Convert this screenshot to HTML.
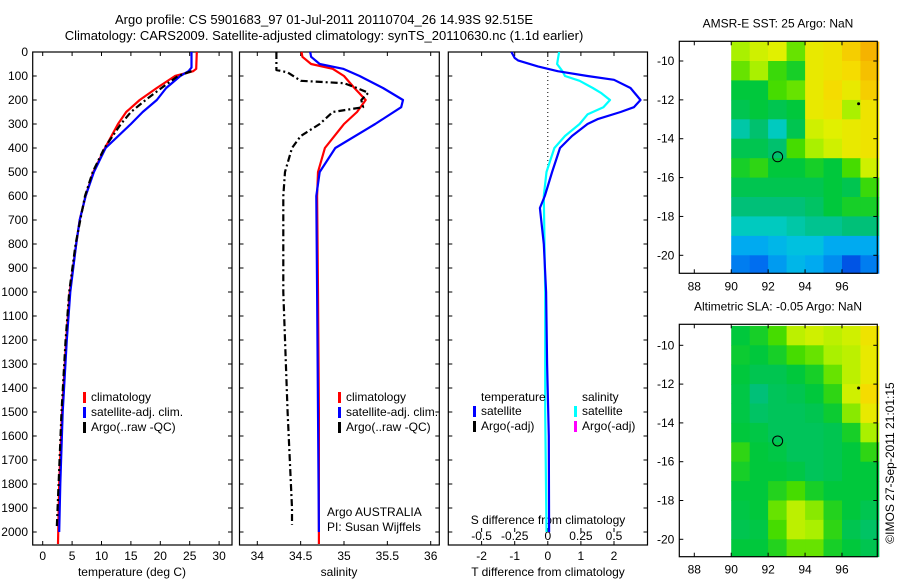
<!DOCTYPE html>
<html><head><meta charset="utf-8">
<style>
html,body{margin:0;padding:0;background:#fff;}
svg{display:block;font-family:"Liberation Sans",sans-serif;}
text{font-size:12px;fill:#000;}
</style></head>
<body>
<svg id="chart" width="900" height="580" viewBox="0 0 900 580" xmlns="http://www.w3.org/2000/svg">
<text x="324" y="24" text-anchor="middle" style="font-size:13px">Argo profile: CS 5901683_97 01-Jul-2011 20110704_26 14.93S 92.515E</text>
<text x="324" y="40" text-anchor="middle" style="font-size:13px">Climatology: CARS2009. Satellite-adjusted climatology: synTS_20110630.nc (1.1d earlier)</text>
<g id="g"></g>
</svg>
<script>
// ---------- data ----------
const depthTicks = [0,100,200,300,400,500,600,700,800,900,1000,1100,1200,1300,1400,1500,1600,1700,1800,1900,2000];
const tempTicks = [0,5,10,15,20,25,30];
const salTicks = [34,34.5,35,35.5,36];
const salTickLabels = ["34","34.5","35","35.5","36"];
const tdiffTicks = [-2,-1,0,1,2];
const sdiffTicks = [-0.5,-0.25,0,0.25,0.5];
const sdiffTickLabels = ["-0.5","-0.25","0","0.25","0.5"];

const tempClimDepth = [0,70,80,100,150,200,250,300,400,500,600,700,800,1000,1200,1500,1800,2050];
const tempClim =      [26.2,26.1,25.6,22.5,19.4,16.5,14.2,12.8,10.6,8.6,7.3,6.3,5.7,4.6,4.0,3.3,2.8,2.6];
const tempSatDepth = [0,65,80,100,150,200,250,300,400,500,600,700,800,1000,1200,1500,1800,2000];
const tempSat =      [25.3,25.3,24.8,23.4,21.0,19.4,17.0,15.0,10.7,8.7,7.3,6.3,5.7,4.7,4.1,3.4,3.0,2.8];
const tempArgoDepth = [80,100,150,200,250,300,400,500,600,800,1000,1200,1500,1800,1980];
const tempArgo =      [25.3,23.0,20.2,17.5,15.0,13.3,10.5,8.5,7.2,5.6,4.5,3.9,3.2,2.7,2.4];

const salClimDepth = [0,20,50,70,100,150,200,250,300,400,500,600,1000,1500,2050];
const salClim =      [34.51,34.52,34.62,34.87,35.0,35.12,35.25,35.15,35.0,34.78,34.7,34.69,34.7,34.71,34.71];
const salSatDepth = [0,20,50,70,100,150,200,230,300,400,500,600,1000,1500,2000];
const salSat =      [34.61,34.62,34.72,34.99,35.18,35.45,35.68,35.66,35.36,34.9,34.72,34.68,34.69,34.7,34.71];
const salArgoDepth = [0,75,85,120,130,150,170,200,230,250,300,350,400,500,600,1000,1500,1900,1970];
const salArgo =      [34.22,34.22,34.35,34.5,35.0,35.15,35.28,35.2,35.22,34.87,34.72,34.5,34.4,34.32,34.3,34.3,34.35,34.4,34.4];

const tdiffDepth = [0,25,35,60,80,100,116,150,200,230,250,280,300,350,400,500,600,650,700,800,1000,1300,1600,2000];
const tdiffSat =   [-1.1,-1.0,-0.9,-0.3,0.3,1.2,2.0,2.5,2.8,2.6,2.2,1.5,1.2,0.73,0.37,0.13,-0.09,-0.24,-0.2,-0.12,-0.05,-0.02,0.03,0.04];
const sdiffDepth = [0,50,80,100,120,150,170,200,230,260,300,350,400,450,500,600,1000,1500,2000];
const sdiffSat =   [0.085,0.07,0.11,0.13,0.24,0.34,0.40,0.47,0.42,0.30,0.24,0.13,0.05,0.02,-0.01,-0.03,-0.02,-0.02,-0.01];

const lonTicks = [88,90,92,94,96];
const latTicks = [-10,-12,-14,-16,-18,-20];
const sstGrid = [
 [0.62,0.66,0.68,0.58,0.70,0.72,0.76,0.80],
 [0.58,0.62,0.55,0.52,0.70,0.72,0.74,0.78],
 [0.50,0.50,0.56,0.58,0.70,0.74,0.70,0.76],
 [0.48,0.50,0.48,0.50,0.70,0.72,0.62,0.72],
 [0.40,0.45,0.38,0.48,0.66,0.68,0.70,0.72],
 [0.48,0.48,0.45,0.56,0.62,0.66,0.70,0.72],
 [0.52,0.54,0.50,0.50,0.52,0.50,0.56,0.66],
 [0.48,0.48,0.48,0.48,0.48,0.50,0.48,0.55],
 [0.44,0.44,0.44,0.44,0.46,0.50,0.52,0.52],
 [0.38,0.38,0.38,0.40,0.42,0.42,0.44,0.44],
 [0.30,0.30,0.32,0.34,0.34,0.30,0.30,0.30],
 [0.24,0.22,0.28,0.32,0.30,0.26,0.18,0.24]];
const slaGrid = [
 [0.50,0.52,0.56,0.64,0.66,0.64,0.66,0.72],
 [0.51,0.50,0.52,0.56,0.58,0.62,0.64,0.70],
 [0.50,0.48,0.48,0.50,0.52,0.58,0.64,0.70],
 [0.49,0.44,0.47,0.48,0.50,0.54,0.66,0.74],
 [0.49,0.46,0.47,0.47,0.48,0.51,0.60,0.70],
 [0.50,0.49,0.47,0.47,0.47,0.48,0.52,0.62],
 [0.54,0.50,0.49,0.47,0.47,0.48,0.50,0.54],
 [0.52,0.50,0.50,0.49,0.47,0.48,0.50,0.50],
 [0.50,0.50,0.53,0.56,0.52,0.50,0.50,0.50],
 [0.49,0.50,0.58,0.64,0.60,0.53,0.50,0.48],
 [0.48,0.49,0.56,0.64,0.62,0.54,0.48,0.46],
 [0.50,0.50,0.53,0.58,0.58,0.52,0.50,0.48]];
const argoLon = [92.515];
const argoLat = [-14.93];

// ---------- helpers ----------
const NS="http://www.w3.org/2000/svg";
const G=document.getElementById('g');
function mk(tag,attrs,parent){const e=document.createElementNS(NS,tag);for(const k in attrs)e.setAttribute(k,attrs[k]);(parent||G).appendChild(e);return e;}
function txt(x,y,s,anchor,name,size){const t=mk('text',{x:x,y:y,'text-anchor':anchor||'start'});if(size)t.style.fontSize=size+'px';t.textContent=s;


return t;}

const PT=52, PB=545;
const yD = d => 52 + d*0.24;
function line(xf, depths, vals, color, dash, name){
  const pts=depths.map((d,i)=>xf(vals[i]).toFixed(1)+','+yD(d).toFixed(1)).join(' ');
  const p=mk('polyline',{points:pts,fill:'none',stroke:color,'stroke-width':2.2,'stroke-linejoin':'round'});
  if(dash)p.setAttribute('stroke-dasharray',dash);
  
  
}
function frame(x0,x1,name){
  const r=mk('rect',{x:x0,y:PT,width:x1-x0,height:PB-PT,fill:'none',stroke:'#000','stroke-width':1.2});
  
  
  depthTicks.forEach(d=>{mk('line',{x1:x0,x2:x0+4,y1:yD(d),y2:yD(d),stroke:'#000'});mk('line',{x1:x1,x2:x1-4,y1:yD(d),y2:yD(d),stroke:'#000'});});
}
function xticks(x0,xf,ticks,labels,name,y){
  ticks.forEach((v,i)=>{const x=xf(v);mk('line',{x1:x,x2:x,y1:PB,y2:PB-4,stroke:'#000'});mk('line',{x1:x,x2:x,y1:PT,y2:PT+4,stroke:'#000'});
  txt(x,y||560,labels?labels[i]:String(v),'middle',name+'-tick-label');});
}
function legendEntry(x,y,color,label,name){
  const r=mk('rect',{x:x-1,y:y-9,width:3,height:11,fill:color});
  
  
  txt(x+7,y,label,'start',name);
}

// ---------- panel 1: temperature ----------
const xT = v => 42.7 + v*5.88;
frame(32.7,232,'temperature-panel');
depthTicks.forEach(d=>txt(28,yD(d)+4,String(d),'end','depth-tick-label'));
xticks(32.7,xT,tempTicks,null,'temperature');
txt(132,576,'temperature (deg C)','middle','temperature-axis-title');
line(xT,tempClimDepth,tempClim,'#ff0000',null,'temperature-climatology-line');
line(xT,tempSatDepth,tempSat,'#0000ff',null,'temperature-satellite-line');
line(xT,tempArgoDepth,tempArgo,'#000000','7,3,2,3','temperature-argo-line');
legendEntry(84,401,'#ff0000','climatology','temperature-legend-climatology');
legendEntry(84,416,'#0000ff','satellite-adj. clim.','temperature-legend-satellite');
legendEntry(84,431,'#000000','Argo(..raw -QC)','temperature-legend-argo');

// ---------- panel 2: salinity ----------
const xS = v => 257.3 + (v-34)*86.7;
frame(239.5,439.3,'salinity-panel');
xticks(239.5,xS,salTicks,salTickLabels,'salinity');
txt(339,576,'salinity','middle','salinity-axis-title');
line(xS,salClimDepth,salClim,'#ff0000',null,'salinity-climatology-line');
line(xS,salSatDepth,salSat,'#0000ff',null,'salinity-satellite-line');
line(xS,salArgoDepth,salArgo,'#000000','7,3,2,3','salinity-argo-line');
legendEntry(339,401,'#ff0000','climatology','salinity-legend-climatology');
legendEntry(339,416,'#0000ff','satellite-adj. clim.','salinity-legend-satellite');
legendEntry(339,431,'#000000','Argo(..raw -QC)','salinity-legend-argo');
txt(327,516,'Argo AUSTRALIA','start','float-country-label');
txt(327,531,'PI: Susan Wijffels','start','float-pi-label');

// ---------- panel 3: differences ----------
const xTd = v => 547.8 + v*33.1;
const xSd = v => 547.8 + v*132.4;
frame(448.3,647.5,'difference-panel');
xticks(448.3,xTd,tdiffTicks,null,'t-difference');
sdiffTicks.forEach((v,i)=>{const x=xSd(v);mk('line',{x1:x,x2:x,y1:528,y2:532,stroke:'#000'});txt(x,540,sdiffTickLabels[i],'middle','s-difference-tick-label');});
txt(548,524,'S difference from climatology','middle','s-difference-axis-title');
txt(548,576,'T difference from climatology','middle','t-difference-axis-title');
mk('line',{x1:xTd(0),x2:xTd(0),y1:PT,y2:yD(500),stroke:'#000','stroke-dasharray':'1,3'});
line(xSd,sdiffDepth,sdiffSat,'#00ffff',null,'salinity-difference-line');
line(xTd,tdiffDepth,tdiffSat,'#0000ff',null,'temperature-difference-line');
txt(481,401,'temperature','start','difference-legend-temperature-heading');
txt(582,401,'salinity','start','difference-legend-salinity-heading');
legendEntry(474,415,'#0000ff','satellite','difference-legend-temp-satellite');
legendEntry(474,430,'#000000','Argo(-adj)','difference-legend-temp-argo');
legendEntry(575,415,'#00ffff','satellite','difference-legend-sal-satellite');
legendEntry(575,430,'#ff00ff','Argo(-adj)','difference-legend-sal-argo');

// ---------- maps ----------
const cmapStops=[[0.15,[0,64,220]],[0.22,[0,110,240]],[0.3,[0,170,240]],[0.36,[0,205,215]],[0.44,[0,192,120]],[0.5,[0,200,60]],[0.56,[70,220,0]],[0.62,[170,240,0]],[0.68,[225,240,0]],[0.74,[245,220,0]],[0.82,[245,165,0]]];
function cmap(v){
  if(v<=cmapStops[0][0])return 'rgb('+cmapStops[0][1]+')';
  for(let i=1;i<cmapStops.length;i++){const a=cmapStops[i-1],b=cmapStops[i];if(v<=b[0]){const t=(v-a[0])/(b[0]-a[0]);return 'rgb('+a[1].map((c,j)=>Math.round(c+(b[1][j]-c)*t)).join(',')+')';}}
  return 'rgb('+cmapStops[cmapStops.length-1][1]+')';
}
function drawMap(top,bottom,latRef10,latRef20,grid,title,name){
  const L=679.3,R=877.3;
  const xL = lon => 694.3 + (lon-88)*18.46;
  const yL = lat => latRef10 + (-10-lat)*(latRef20-latRef10)/10;
  const gg=mk('g',{});
  
  
  grid.forEach((row,r)=>row.forEach((v,c)=>{
    const x0=xL(90+c), x1=xL(91+c), y0=Math.max(top,yL(-9-r)), y1=Math.min(bottom,yL(-10-r));
    const cell=mk('rect',{x:x0.toFixed(1),y:y0.toFixed(1),width:(x1-x0+0.4).toFixed(1),height:(y1-y0+0.4).toFixed(1),fill:cmap(v)},gg);
    
    
  }));
  const fr=mk('rect',{x:L,y:top,width:R-L,height:bottom-top,fill:'none',stroke:'#000','stroke-width':1.2});
  
  
  lonTicks.forEach(lon=>{const x=xL(lon);mk('line',{x1:x,x2:x,y1:bottom,y2:bottom-4,stroke:'#000'});mk('line',{x1:x,x2:x,y1:top,y2:top+4,stroke:'#000'});txt(x,bottom+17,String(lon),'middle',name+'-lon-tick-label');});
  latTicks.forEach(lat=>{const y=yL(lat);mk('line',{x1:L,x2:L+4,y1:y,y2:y,stroke:'#000'});mk('line',{x1:R,x2:R-4,y1:y,y2:y,stroke:'#000'});txt(L-5,y+4,String(lat),'end',name+'-lat-tick-label');});
  argoLon.forEach((lon,i)=>{const c=mk('circle',{cx:xL(lon),cy:yL(argoLat[i]),r:5,fill:'none',stroke:'#000','stroke-width':1});
    
    });
  mk('circle',{cx:xL(96.9),cy:yL(-12.2),r:1.5,fill:'#000'});
  txt(778,top-14,title,'middle',name+'-title');
}
drawMap(41.3,273.3,61,255.3,sstGrid,'AMSR-E SST: 25 Argo: NaN','sst-map');
drawMap(324.3,556.7,345.3,539.3,slaGrid,'Altimetric SLA: -0.05 Argo: NaN','sla-map');

const cr=txt(0,0,'\u00A9IMOS 27-Sep-2011 21:01:15','middle','timestamp-label');
cr.setAttribute('transform','translate(894,463) rotate(-90)');
</script>
</body></html>
